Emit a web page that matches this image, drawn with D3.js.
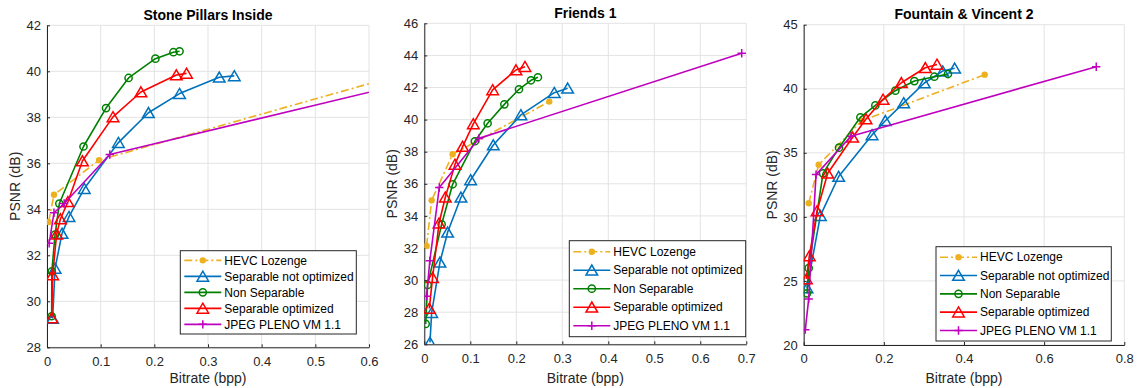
<!DOCTYPE html>
<html>
<head>
<meta charset="utf-8">
<script src="https://cdn.jsdelivr.net/npm/d3@7"></script>
<style>
  body { margin: 0; background: #fff; }
  svg { display: block; font-family: "Liberation Sans", Arial, Helvetica, sans-serif; }
</style>
</head>
<body>
<svg id="chart" width="1137" height="388"></svg>
<script>
// ---- data ----
const seriesNames = ['HEVC Lozenge', 'Separable not optimized', 'Non Separable', 'Separable optimized', 'JPEG PLENO VM 1.1']
const plotTitles = ['Stone Pillars Inside', 'Friends 1', 'Fountain & Vincent 2']

const stoneXTicks = [0, 0.1, 0.2, 0.3, 0.4, 0.5, 0.6]
const stoneYTicks = [28, 30, 32, 34, 36, 38, 40, 42]
const friendsXTicks = [0, 0.1, 0.2, 0.3, 0.4, 0.5, 0.6, 0.7]
const friendsYTicks = [26, 28, 30, 32, 34, 36, 38, 40, 42, 44, 46]
const fountainXTicks = [0, 0.2, 0.4, 0.6, 0.8]
const fountainYTicks = [20, 25, 30, 35, 40, 45]

// [bitrate (bpp), PSNR (dB)]
const stoneHevc = [[0.003, 33.45], [0.013, 34.63], [0.097, 36.14], [0.75, 40.45]]
const stoneSepNotOpt = [[0.0105, 29.25], [0.015, 31.43], [0.028, 32.95], [0.041, 33.68], [0.0695, 34.9],
  [0.133, 36.9], [0.189, 38.2], [0.247, 39.03], [0.321, 39.74], [0.349, 39.8]]
const stoneNonSep = [[0.0087, 29.35], [0.009, 31.3], [0.015, 32.9], [0.023, 34.25], [0.068, 36.73],
  [0.110, 38.4], [0.152, 39.71], [0.202, 40.55], [0.2355, 40.83], [0.247, 40.87]]
const stoneSepOpt = [[0.0088, 29.28], [0.0105, 31.15], [0.018, 32.92], [0.025, 33.58], [0.039, 34.33],
  [0.066, 36.1], [0.123, 38.02], [0.175, 39.1], [0.241, 39.84], [0.26, 39.91]]
const stoneJpeg = [[0.004, 32.52], [0.013, 33.85], [0.032, 34.25], [0.117, 36.38], [0.70, 39.65]]

const friendsHevc = [[0.005, 32.13], [0.016, 34.97], [0.0616, 37.84], [0.2717, 41.12]]
const friendsSepNotOpt = [[0.0123, 26.12], [0.016, 27.97], [0.034, 31.11], [0.0507, 32.98], [0.0797, 35.16],
  [0.1007, 36.24], [0.150, 38.42], [0.210, 40.29], [0.2826, 41.68], [0.3116, 41.95]]
const friendsNonSep = [[0.003, 27.27], [0.0072, 29.7], [0.0377, 33.48], [0.0616, 35.97], [0.110, 38.65],
  [0.1377, 39.77], [0.174, 40.95], [0.2058, 41.89], [0.2319, 42.45], [0.247, 42.64]]
const friendsSepOpt = [[0.0109, 28.24], [0.018, 30.15], [0.032, 33.54], [0.0457, 35.16], [0.0667, 37.21],
  [0.0833, 38.32], [0.1065, 39.73], [0.1486, 41.85], [0.1993, 43.09], [0.2188, 43.3]]
const friendsJpeg = [[0.005, 29.0], [0.012, 31.2], [0.0326, 35.77], [0.1188, 38.83], [0.69, 44.13]]

const fountainHevc = [[0.0125, 31.06], [0.0374, 34.07], [0.145, 37.5], [0.4516, 41.1]]
const fountainSepNotOpt = [[0.0083, 24.45], [0.0416, 30.1], [0.0873, 33.15], [0.1705, 36.4], [0.2037, 37.5],
  [0.2495, 38.9], [0.301, 40.45], [0.3468, 41.38], [0.3767, 41.6]]
const fountainNonSep = [[0.0083, 24.03], [0.0125, 26.0], [0.0482, 33.4], [0.0881, 35.4], [0.1414, 37.77],
  [0.1788, 38.7], [0.2287, 39.85], [0.2761, 40.6], [0.326, 40.94], [0.36, 41.15]]
const fountainSepOpt = [[0.0067, 25.15], [0.0141, 26.95], [0.0333, 30.46], [0.0599, 33.4], [0.1222, 36.21],
  [0.1555, 37.64], [0.1979, 39.17], [0.2437, 40.47], [0.3035, 41.64], [0.3326, 41.9]]
const fountainJpeg = [[0.004, 21.2], [0.0125, 23.6], [0.0308, 33.3], [0.1181, 36.3], [0.730, 41.72]]

// ---- styles (MATLAB-like) ----
const seriesStyle = [
  { color: '#EDB120', dash: '8,3,2,3', marker: 'dot' },
  { color: '#0072BD', dash: null, marker: 'tri' },
  { color: '#008000', dash: null, marker: 'circ' },
  { color: '#FF0000', dash: null, marker: 'tri' },
  { color: '#BF00BF', dash: null, marker: 'plus' }
]
const axisColor = '#262626'
const gridColor = '#e3e3e3'

const panels = [
  { title: plotTitles[0], series: [stoneHevc, stoneSepNotOpt, stoneNonSep, stoneSepOpt, stoneJpeg],
    xTicks: stoneXTicks, yTicks: stoneYTicks,
    box: { left: 47, top: 25.3, right: 369, bottom: 347.3 },
    legend: { right: 12.7, bottom: 13.3, width: 176, height: 83.3, step: 16 } },
  { title: plotTitles[1], series: [friendsHevc, friendsSepNotOpt, friendsNonSep, friendsSepOpt, friendsJpeg],
    xTicks: friendsXTicks, yTicks: friendsYTicks,
    box: { left: 424.3, top: 23.3, right: 746.3, bottom: 344.3 },
    legend: { right: 0.6, bottom: 7.6, width: 176.4, height: 96, step: 18.5 } },
  { title: plotTitles[2], series: [fountainHevc, fountainSepNotOpt, fountainNonSep, fountainSepOpt, fountainJpeg],
    xTicks: fountainXTicks, yTicks: fountainYTicks,
    box: { left: 803.7, top: 24.7, right: 1124.3, bottom: 345 },
    legend: { right: 13, bottom: 4, width: 175.3, height: 94.3, step: 18.3 } }
]

const svg = d3.select('#chart')

function drawMarker (sel, kind, color) {
  if (kind === 'dot') {
    sel.append('circle').attr('r', 3.2).attr('fill', color).attr('stroke', 'none')
  } else if (kind === 'circ') {
    sel.append('circle').attr('r', 3.6).attr('fill', 'none').attr('stroke', color).attr('stroke-width', 1.5)
  } else if (kind === 'tri') {
    sel.append('path').attr('d', 'M0,-5.2L5.8,4.8L-5.8,4.8Z')
      .attr('fill', 'none').attr('stroke', color).attr('stroke-width', 1.5).attr('stroke-linejoin', 'miter')
  } else if (kind === 'plus') {
    sel.append('path').attr('d', 'M-4.2,0H4.2M0,-4.2V4.2')
      .attr('fill', 'none').attr('stroke', color).attr('stroke-width', 1.5)
  }
}

function tickFmt (d) {
  return String(+d.toFixed(2))
}

panels.forEach((p, i) => {
  const b = p.box
  const w = b.right - b.left
  const h = b.bottom - b.top

  const x = d3.scaleLinear().domain(d3.extent(p.xTicks)).range([0, w])
  const y = d3.scaleLinear().domain(d3.extent(p.yTicks)).range([h, 0])

  const g = svg.append('g').attr('transform', `translate(${b.left},${b.top})`)

  // grid
  g.append('g').selectAll('line').data(p.xTicks).join('line')
    .attr('x1', d => x(d)).attr('x2', d => x(d)).attr('y1', 0).attr('y2', h)
    .attr('stroke', gridColor).attr('stroke-width', 1)
  g.append('g').selectAll('line').data(p.yTicks).join('line')
    .attr('y1', d => y(d)).attr('y2', d => y(d)).attr('x1', 0).attr('x2', w)
    .attr('stroke', gridColor).attr('stroke-width', 1)

  // axes
  const xAxis = g.append('g').attr('transform', `translate(0,${h})`)
    .call(d3.axisBottom(x).tickValues(p.xTicks).tickSizeInner(-3).tickSizeOuter(0).tickPadding(9).tickFormat(tickFmt))
  const yAxis = g.append('g')
    .call(d3.axisLeft(y).tickValues(p.yTicks).tickSizeInner(-3).tickSizeOuter(0).tickPadding(6).tickFormat(tickFmt))
  ;[xAxis, yAxis].forEach(a => {
    a.attr('font-family', null).attr('font-size', 13)
    a.select('.domain').attr('stroke', axisColor).attr('stroke-width', 1)
    a.selectAll('.tick line').attr('stroke', axisColor)
    a.selectAll('.tick text').attr('fill', axisColor)
  })

  // clip
  g.append('clipPath').attr('id', `clip${i}`)
    .append('rect').attr('x', 0).attr('y', 0).attr('width', w).attr('height', h)
  const plot = g.append('g').attr('clip-path', `url(#clip${i})`)

  const line = d3.line().x(d => x(d[0])).y(d => y(d[1]))

  p.series.forEach((data, s) => {
    const st = seriesStyle[s]
    plot.append('path').datum(data)
      .attr('d', line)
      .attr('fill', 'none')
      .attr('stroke', st.color)
      .attr('stroke-width', 1.6)
      .attr('stroke-linejoin', 'round')
      .attr('stroke-dasharray', st.dash)
    plot.append('g').selectAll('g').data(data).join('g')
      .attr('transform', d => `translate(${x(d[0])},${y(d[1])})`)
      .each(function () { drawMarker(d3.select(this), st.marker, st.color) })
  })

  // title and labels
  svg.append('text')
    .attr('x', (b.left + b.right) / 2).attr('y', b.top - 5.5)
    .attr('text-anchor', 'middle').attr('font-size', 14).attr('font-weight', 'bold')
    .attr('fill', '#000').text(p.title)
  svg.append('text')
    .attr('x', (b.left + b.right) / 2).attr('y', 383)
    .attr('text-anchor', 'middle').attr('font-size', 14).attr('fill', axisColor)
    .text('Bitrate (bpp)')
  svg.append('text')
    .attr('transform', `translate(${b.left - 27},${(b.top + b.bottom) / 2}) rotate(-90)`)
    .attr('text-anchor', 'middle').attr('font-size', 14).attr('fill', axisColor)
    .text('PSNR (dB)')

  // legend
  const L = p.legend
  const lx = w - L.right - L.width
  const ly = h - L.bottom - L.height
  const leg = g.append('g').attr('transform', `translate(${lx},${ly})`)
  leg.append('rect').attr('width', L.width).attr('height', L.height)
    .attr('fill', '#fff').attr('stroke', axisColor).attr('stroke-width', 1)
  const pad = (L.height - 4 * L.step) / 2
  seriesNames.forEach((name, s) => {
    const st = seriesStyle[s]
    const row = leg.append('g').attr('transform', `translate(0,${pad + s * L.step})`)
    row.append('line').attr('x1', 4).attr('x2', 41).attr('y1', 0).attr('y2', 0)
      .attr('stroke', st.color).attr('stroke-width', 1.6).attr('stroke-dasharray', st.dash)
    drawMarker(row.append('g').attr('transform', 'translate(22.5,0)'), st.marker, st.color)
    row.append('text').attr('x', 44).attr('y', 0).attr('dy', '0.35em')
      .attr('font-size', 12).attr('fill', '#000').text(name)
  })
})
</script>
</body>
</html>
